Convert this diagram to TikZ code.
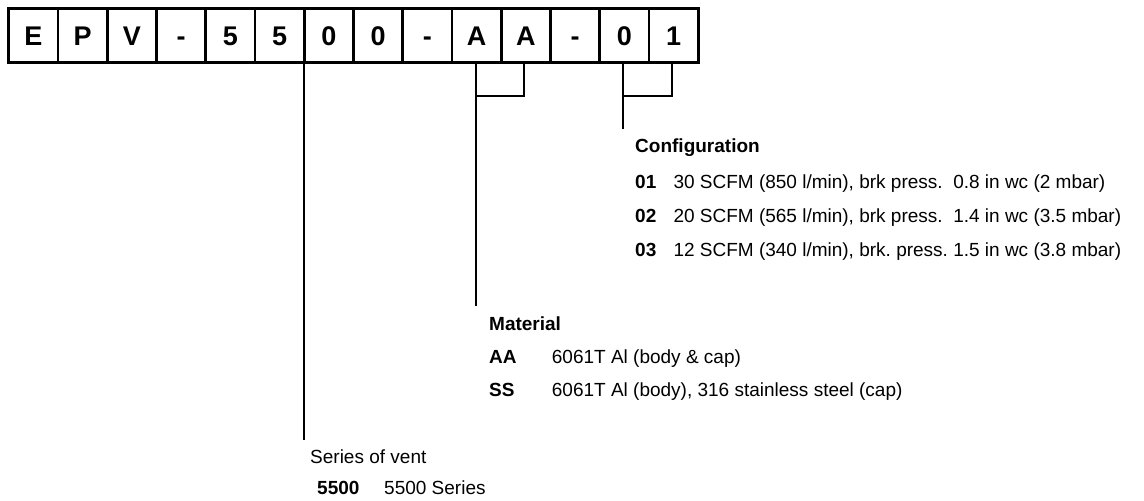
\documentclass[tikz,border=0pt]{standalone}
\usepackage{fontspec}
\setmainfont{Liberation Sans}
\usetikzlibrary{calc}
\frenchspacing
\begin{document}
\begin{tikzpicture}[x=1pt,y=-1pt,
  cell/.style={draw, line width=2.8pt, minimum width=49.25pt, minimum height=53.8pt,
    text height=19.5pt, text depth=0pt,
    inner sep=0pt, outer sep=0pt, font=\bfseries\fontsize{27}{27}\selectfont},
  conn/.style={line width=1.7pt},
  txt/.style={anchor=base west, inner sep=0pt, font=\frenchspacing\fontsize{19}{22}\selectfont},
  code/.style={anchor=base west, inner sep=0pt, font=\bfseries\fontsize{19}{22}\selectfont}]
\useasboundingbox (0,0) rectangle (1144,501);
\node[cell] (c1) at (33.33,35.6) {E};
\node[cell] (c2) at (82.58,35.6) {P};
\node[cell] (c3) at (131.83,35.6) {V};
\node[cell] (c4) at (181.08,35.6) {-};
\node[cell] (c5) at (230.33,35.6) {5};
\node[cell] (c6) at (279.58,35.6) {5};
\node[cell] (c7) at (328.83,35.6) {0};
\node[cell] (c8) at (378.08,35.6) {0};
\node[cell] (c9) at (427.33,35.6) {-};
\node[cell] (c10) at (476.58,35.6) {A};
\node[cell] (c11) at (525.83,35.6) {A};
\node[cell] (c12) at (575.08,35.6) {-};
\node[cell] (c13) at (624.33,35.6) {0};
\node[cell] (c14) at (673.58,35.6) {1};
% series connector
\draw[conn] (c6.south east) -- ++(0,377.5) coordinate (e5500);
% material bracket
\coordinate (bAA) at ($(c10.south)+(-0.6,33.3)$);
\draw[conn] ([xshift=-1.9pt]c11.south) |- (bAA);
\draw[conn] ([xshift=-0.6pt]c10.south) -- ++(0,243.2) coordinate (eAA);
% configuration bracket
\coordinate (b01) at ($(c13.south)+(-1.6,33.3)$);
\draw[conn] ([xshift=-1.6pt]c14.south) |- (b01);
\draw[conn] ([xshift=-1.6pt]c13.south) -- ++(0,66.5) coordinate (e01);
% configuration text
\node[code] (cfg) at (635,152.7) {Configuration};
\node[code] (k01) at (635,188.3) {01};
\node[txt] (d01) at (673.3,188.3) {30 SCFM (850 l/min), brk press.\ \ 0.8 in wc (2 mbar)};
\node[code] (k02) at (635,222.7) {02};
\node[txt] (d02) at (673.3,222.7) {20 SCFM (565 l/min), brk press.\ \ 1.4 in wc (3.5 mbar)};
\node[code] (k03) at (635,256.7) {03};
\node[txt] (d03) at (673.3,256.7) {12 SCFM (340 l/min), brk. press. 1.5 in wc (3.8 mbar)};
% material text
\node[code] (mat) at (489,330) {Material};
\node[code] (kAA) at (489,363) {AA};
\node[txt] (dAA) at (551.7,363) {6061T Al (body \& cap)};
\node[code] (kSS) at (489,396) {SS};
\node[txt] (dSS) at (551.7,396) {6061T Al (body), 316 stainless steel (cap)};
% series text
\node[txt] (ser) at (310,463) {Series of vent};
\node[code] (k55) at (317,494.3) {5500};
\node[txt] (d55) at (384,494.3) {5500 Series};
\end{tikzpicture}
\end{document}
